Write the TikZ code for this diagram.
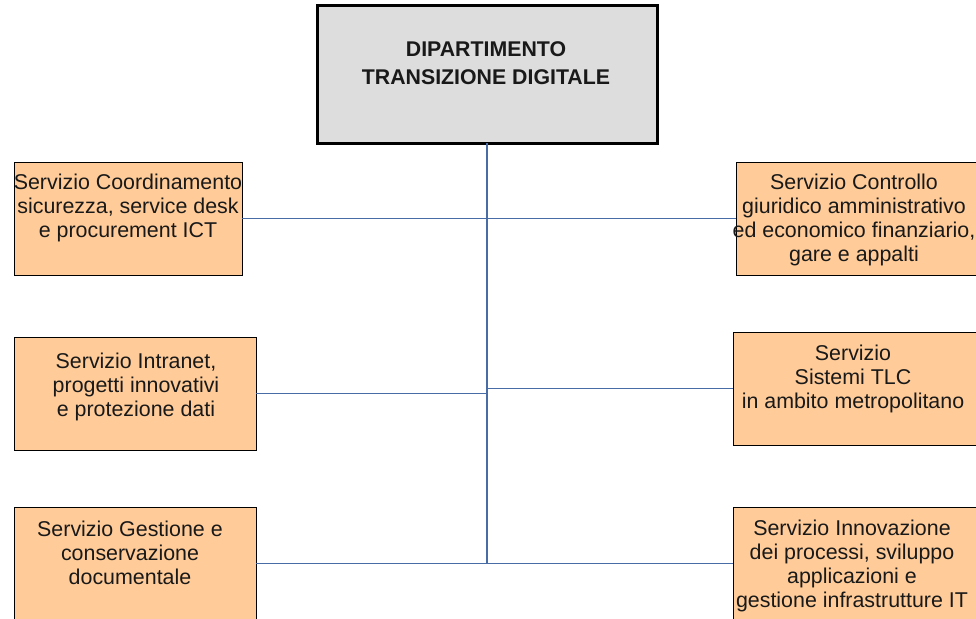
\documentclass[tikz,border=0pt]{standalone}
\usepackage{fontspec}
\setmainfont{Liberation Sans}
\usetikzlibrary{shadows}
\definecolor{boxfill}{HTML}{FFCC99}
\definecolor{topfill}{HTML}{DDDDDD}
\definecolor{linkcol}{RGB}{72,108,166}
\tikzset{
  unitbox/.style={draw=black, line width=0.8pt, fill=boxfill, inner sep=0pt, outer sep=0pt,
    drop shadow={shadow xshift=1.2pt, shadow yshift=-1.2pt, opacity=0.6, fill=black!60}},
  headbox/.style={draw=black, line width=3pt, fill=topfill, inner sep=0pt, outer sep=0pt},
  txt/.style={align=center, inner sep=0pt, font=\fontsize{21.4}{24}\selectfont, text=black!90},
  headtxt/.style={align=center, inner sep=0pt, font=\fontsize{21.3}{27.5}\selectfont\bfseries, text=black!90},
  link/.style={draw=linkcol, line width=1.1pt}
}
\begin{document}
\begin{tikzpicture}[x=1pt,y=-1pt]
\path[use as bounding box, clip] (0,0) rectangle (976,618);
\fill[white] (0,0) rectangle (976,618);
% boxes
\node[headbox, minimum width=340pt, minimum height=137pt] (top) at (487,74.5) {};
\node[unitbox, minimum width=228pt, minimum height=113pt] (L1) at (128,218.5) {};
\node[unitbox, minimum width=240pt, minimum height=113pt] (R1) at (856,218.5) {};
\node[unitbox, minimum width=242pt, minimum height=113pt] (L2) at (135,393.5) {};
\node[unitbox, minimum width=243pt, minimum height=113pt] (R2) at (854.5,388.5) {};
\node[unitbox, minimum width=242pt, minimum height=113pt] (L3) at (135,563.5) {};
\node[unitbox, minimum width=243pt, minimum height=113pt] (R3) at (854.5,563.5) {};
% connectors
\draw[link] (top.south) -- (top.south |- L3.east);
\draw[link] (L1.east) -- (R1.west);
\draw[link] (L2.east) -- (L2.east -| top.south);
\draw[link] (R2.west) -- (R2.west -| top.south);
\draw[link] (L3.east) -- (R3.west);
% texts
\node[headtxt] (topt) at (486,63) {DIPARTIMENTO\\TRANSIZIONE DIGITALE};
\node[txt] (L1t) at (128,208) {Servizio Coordinamento\\sicurezza, service desk\\e procurement ICT};
\node[txt] (R1t) at (854,220) {Servizio Controllo\\giuridico amministrativo\\ed economico finanziario,\\gare e appalti};
\node[txt] (L2t) at (136,387) {Servizio Intranet,\\progetti innovativi\\e protezione dati};
\node[txt] (R2t) at (853,379) {Servizio\\Sistemi TLC\\in ambito metropolitano};
\node[txt] (L3t) at (130,553) {Servizio Gestione e\\conservazione\\documentale};
\node[txt] (R3t) at (852,566) {Servizio Innovazione\\dei processi, sviluppo\\applicazioni e\\gestione infrastrutture IT};
\end{tikzpicture}
\end{document}
